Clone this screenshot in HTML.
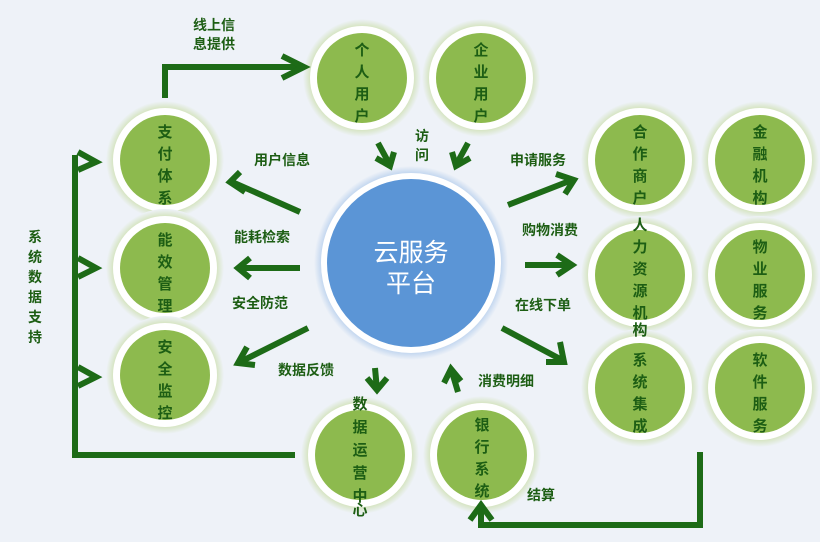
<!DOCTYPE html>
<html><head><meta charset="utf-8"><style>
html,body{margin:0;padding:0;background:#eef2f8;}
svg{display:block;}
text{font-family:"Liberation Sans","Noto Sans CJK SC",sans-serif;}
</style></head><body>
<svg width="820" height="542" viewBox="0 0 820 542" xmlns="http://www.w3.org/2000/svg">
<defs>
<radialGradient id="halo" cx="50%" cy="50%" r="50%">
<stop offset="80%" stop-color="#c7dca0"/><stop offset="100%" stop-color="#eef2f8"/>
</radialGradient>
<radialGradient id="bhalo" cx="50%" cy="50%" r="50%">
<stop offset="88%" stop-color="#a9c6ea"/><stop offset="100%" stop-color="#eef2f8"/>
</radialGradient>
<g id="c"><circle r="59" fill="url(#halo)"/><circle r="52" fill="#fff"/><circle r="45" fill="#8dba4e"/></g>
</defs>
<rect width="820" height="542" fill="#eef2f8"/>

<circle cx="411" cy="263" r="97" fill="url(#bhalo)"/>
<circle cx="411" cy="263" r="90" fill="#fff"/>
<circle cx="411" cy="263" r="84" fill="#5b95d6"/>
<text x="411" y="261" font-size="25" fill="#fff" text-anchor="middle">云服务</text>
<text x="411" y="292" font-size="25" fill="#fff" text-anchor="middle">平台</text>

<use href="#c" x="362" y="78"/><use href="#c" x="481" y="78"/>
<use href="#c" x="165" y="160"/><use href="#c" x="165" y="268"/><use href="#c" x="165" y="375"/>
<use href="#c" x="360" y="455"/><use href="#c" x="482" y="455"/>
<use href="#c" x="640" y="160"/><use href="#c" x="760" y="160"/>
<use href="#c" x="640" y="275"/><use href="#c" x="760" y="275"/>
<use href="#c" x="640" y="388"/><use href="#c" x="760" y="388"/>

<g stroke="#1d6b17" stroke-width="6" fill="none" stroke-linecap="butt" stroke-linejoin="miter">
<polyline points="165,98 165,67 300,67"/>
<polyline points="282,56 304,67 282,78"/>
<polyline points="295,455 75,455 75,155"/>
<polyline points="78,152 96,162 78,170"/>
<polyline points="78,258 96,268 78,277"/>
<polyline points="78,367 96,377 78,386"/>
<polyline points="700,452 700,525 481,525 481,508"/>
<polyline points="470,520 481,505 492,520"/>
<line x1="378" y1="143" x2="390" y2="165"/><polyline points="376,158 390,166 394,152"/>
<line x1="468" y1="143" x2="456" y2="165"/><polyline points="452,152 456,166 470,158"/>
<line x1="300" y1="212" x2="232" y2="182"/><polyline points="240,172 230,182 245,192"/>
<line x1="300" y1="268" x2="238" y2="268"/><polyline points="250,258 238,268 250,278"/>
<line x1="308" y1="328" x2="240" y2="362"/><polyline points="247,347 238,363 255,365"/>
<line x1="375" y1="368" x2="377" y2="390"/><polyline points="367,378 377,390 387,378"/>
<line x1="458" y1="392" x2="452" y2="372"/><polyline points="444,383 451,369 461,381"/>
<line x1="508" y1="205" x2="572" y2="180"/><polyline points="556,174 574,180 565,194"/>
<line x1="525" y1="265" x2="570" y2="265"/><polyline points="557,255 572,265 557,275"/>
<line x1="502" y1="328" x2="562" y2="360"/><polyline points="560,342 564,362 546,362"/>
</g>

<g font-size="15" fill="#1d5e14" text-anchor="middle" font-weight="bold">
<text x="362" y="55">个</text><text x="362" y="77">人</text><text x="362" y="99">用</text><text x="362" y="121">户</text>
<text x="481" y="55">企</text><text x="481" y="77">业</text><text x="481" y="99">用</text><text x="481" y="121">户</text>
<text x="165" y="137">支</text><text x="165" y="159">付</text><text x="165" y="181">体</text><text x="165" y="203">系</text>
<text x="165" y="245">能</text><text x="165" y="267">效</text><text x="165" y="289">管</text><text x="165" y="311">理</text>
<text x="165" y="352">安</text><text x="165" y="374">全</text><text x="165" y="396">监</text><text x="165" y="418">控</text>
<text x="360" y="409">数</text><text x="360" y="432">据</text><text x="360" y="455">运</text><text x="360" y="478">营</text><text x="360" y="501">中</text><text x="360" y="515">心</text>
<text x="482" y="430">银</text><text x="482" y="452">行</text><text x="482" y="474">系</text><text x="482" y="496">统</text>
<text x="640" y="137">合</text><text x="640" y="159">作</text><text x="640" y="181">商</text><text x="640" y="203">户</text>
<text x="760" y="137">金</text><text x="760" y="159">融</text><text x="760" y="181">机</text><text x="760" y="203">构</text>
<text x="640" y="230">人</text><text x="640" y="252">力</text><text x="640" y="274">资</text><text x="640" y="296">源</text><text x="640" y="318">机</text><text x="640" y="335">构</text>
<text x="760" y="252">物</text><text x="760" y="274">业</text><text x="760" y="296">服</text><text x="760" y="318">务</text>
<text x="640" y="365">系</text><text x="640" y="387">统</text><text x="640" y="409">集</text><text x="640" y="431">成</text>
<text x="760" y="365">软</text><text x="760" y="387">件</text><text x="760" y="409">服</text><text x="760" y="431">务</text>
</g>

<g font-size="14" fill="#1d5e14" font-weight="bold">
<text x="193" y="30">线上信</text><text x="193" y="49">息提供</text>
<text x="254" y="165">用户信息</text>
<text x="415" y="141">访</text><text x="415" y="160">问</text>
<text x="234" y="242">能耗检索</text>
<text x="232" y="308">安全防范</text>
<text x="278" y="375">数据反馈</text>
<text x="478" y="386">消费明细</text>
<text x="510" y="165">申请服务</text>
<text x="522" y="235">购物消费</text>
<text x="515" y="310">在线下单</text>
<text x="527" y="500">结算</text>
</g>
<g font-size="14" fill="#1d5e14" font-weight="bold" text-anchor="middle">
<text x="35" y="242">系</text><text x="35" y="262">统</text><text x="35" y="282">数</text><text x="35" y="302">据</text><text x="35" y="322">支</text><text x="35" y="342">持</text>
</g>
</svg>
</body></html>
